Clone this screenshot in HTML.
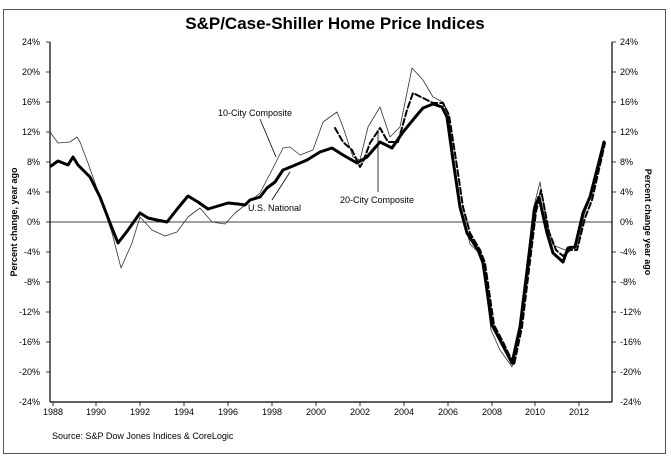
<!DOCTYPE html>
<html><head><style>body{margin:0;background:#fff}svg{display:block;font-family:"Liberation Sans",Arial,sans-serif}</style></head><body>
<svg width="671" height="458" viewBox="0 0 671 458" xmlns="http://www.w3.org/2000/svg">
<rect x="3.5" y="9.5" width="662" height="444" fill="#fff" stroke="#555" stroke-width="1"/>
<text x="335" y="29" font-size="17" font-weight="bold" text-anchor="middle">S&amp;P/Case-Shiller Home Price Indices</text>
<g stroke="#000" stroke-width="1.2" fill="none">
<line x1="50" y1="42" x2="50" y2="402"/><line x1="612" y1="42" x2="612" y2="402"/><line x1="50" y1="402" x2="612" y2="402"/>
</g>
<line x1="50" y1="222" x2="612" y2="222" stroke="#000" stroke-width="0.8"/>
<g font-size="9" fill="#000">
<g text-anchor="end">
<text x="40" y="45">24%</text><text x="40" y="75">20%</text><text x="40" y="105">16%</text><text x="40" y="135">12%</text><text x="40" y="165">8%</text><text x="40" y="195">4%</text><text x="40" y="225">0%</text><text x="40" y="255">-4%</text><text x="40" y="285">-8%</text><text x="40" y="315">-12%</text><text x="40" y="345">-16%</text><text x="40" y="375">-20%</text><text x="40" y="405">-24%</text>
</g>
<g>
<text x="620" y="45">24%</text><text x="620" y="75">20%</text><text x="620" y="105">16%</text><text x="620" y="135">12%</text><text x="620" y="165">8%</text><text x="620" y="195">4%</text><text x="620" y="225">0%</text><text x="620" y="255">-4%</text><text x="620" y="285">-8%</text><text x="620" y="315">-12%</text><text x="620" y="345">-16%</text><text x="620" y="375">-20%</text><text x="620" y="405">-24%</text>
</g>
<g text-anchor="middle">
<text x="53" y="415">1988</text><text x="96" y="415">1990</text><text x="140" y="415">1992</text><text x="184" y="415">1994</text><text x="228" y="415">1996</text><text x="272" y="415">1998</text><text x="316" y="415">2000</text><text x="360" y="415">2002</text><text x="404" y="415">2004</text><text x="448" y="415">2006</text><text x="492" y="415">2008</text><text x="535" y="415">2010</text><text x="579" y="415">2012</text>
</g>
<text x="52" y="439">Source: S&amp;P Dow Jones Indices &amp; CoreLogic</text>
<text transform="translate(17,222) rotate(-90)" text-anchor="middle" font-weight="bold">Percent change, year ago</text>
<text transform="translate(645,222) rotate(90)" text-anchor="middle" font-weight="bold">Percent change year ago</text>
<text x="218" y="116">10-City Composite</text>
<text x="248" y="211">U.S. National</text>
<text x="340" y="203">20-City Composite</text>
</g>
<g stroke="#000" stroke-width="0.8">
<path d="M46 42H50M46 72H50M46 102H50M46 132H50M46 162H50M46 192H50M46 222H50M46 252H50M46 282H50M46 312H50M46 342H50M46 372H50M612 42H616M612 72H616M612 102H616M612 132H616M612 162H616M612 192H616M612 252H616M612 282H616M612 312H616M612 342H616M612 372H616"/>
<path d="M53 402V406M96 402V406M140 402V406M184 402V406M228 402V406M272 402V406M316 402V406M360 402V406M404 402V406M448 402V406M492 402V406M535 402V406M579 402V406"/>
<line x1="260" y1="119" x2="276" y2="157"/><line x1="272" y1="200" x2="290" y2="172"/><line x1="378" y1="192" x2="378" y2="130"/>
</g>
<g fill="none" stroke-linejoin="round" stroke-linecap="round">
<polyline stroke="#333" stroke-width="0.8" points="50,132 58,143 70,142 77,137 80,142 88,163 100,197 112,233 121,268 132,243 140,217 152,230 165,236 177,232 188,217 200,208 212,222 225,224 235,213 248,203 260,193 272,170 283,148 290,147 300,155 313,150 323,122 337,112 343,127 353,157 360,160 368,127 380,107 390,137 400,127 412,68 423,80 433,97 443,102 448,113 454,160 461,210 470,244 478,252 483,265 491,330 500,350 512,367 520,325 533,210 540,182 547,225 553,245 565,250 570,246 577,250 584,215 591,195 603,152"/>
<polyline stroke="#000" stroke-width="2" stroke-dasharray="6,3" points="335,128 343,142 352,150 360,167 363,162 370,143 380,128 388,142 398,142 407,110 413,93 423,98 433,103 443,103 449,115 456,160 463,207 470,233 480,250 485,263 494,325 503,342 514,365 522,327 536,212 541,190 549,232 556,250 563,256 570,250 577,250 585,218 592,200 605,143"/>
<polyline stroke="#000" stroke-width="3" points="51,166 58,161 68,165 73,157 78,165 90,177 100,197 110,223 118,243 128,230 140,213 148,218 157,220 167,222 178,208 188,196 198,202 208,209 218,206 228,203 238,204 245,205 250,200 260,197 267,188 275,182 283,170 293,166 307,160 320,152 332,148 343,155 357,163 367,157 380,142 392,148 403,132 417,115 423,108 433,104 442,107 447,117 453,160 460,207 467,233 478,250 483,263 492,325 500,340 512,363 520,327 535,207 539,197 547,233 553,253 563,262 568,248 575,247 583,213 590,197 602,150 604,142"/>
</g>
</svg>
</body></html>
